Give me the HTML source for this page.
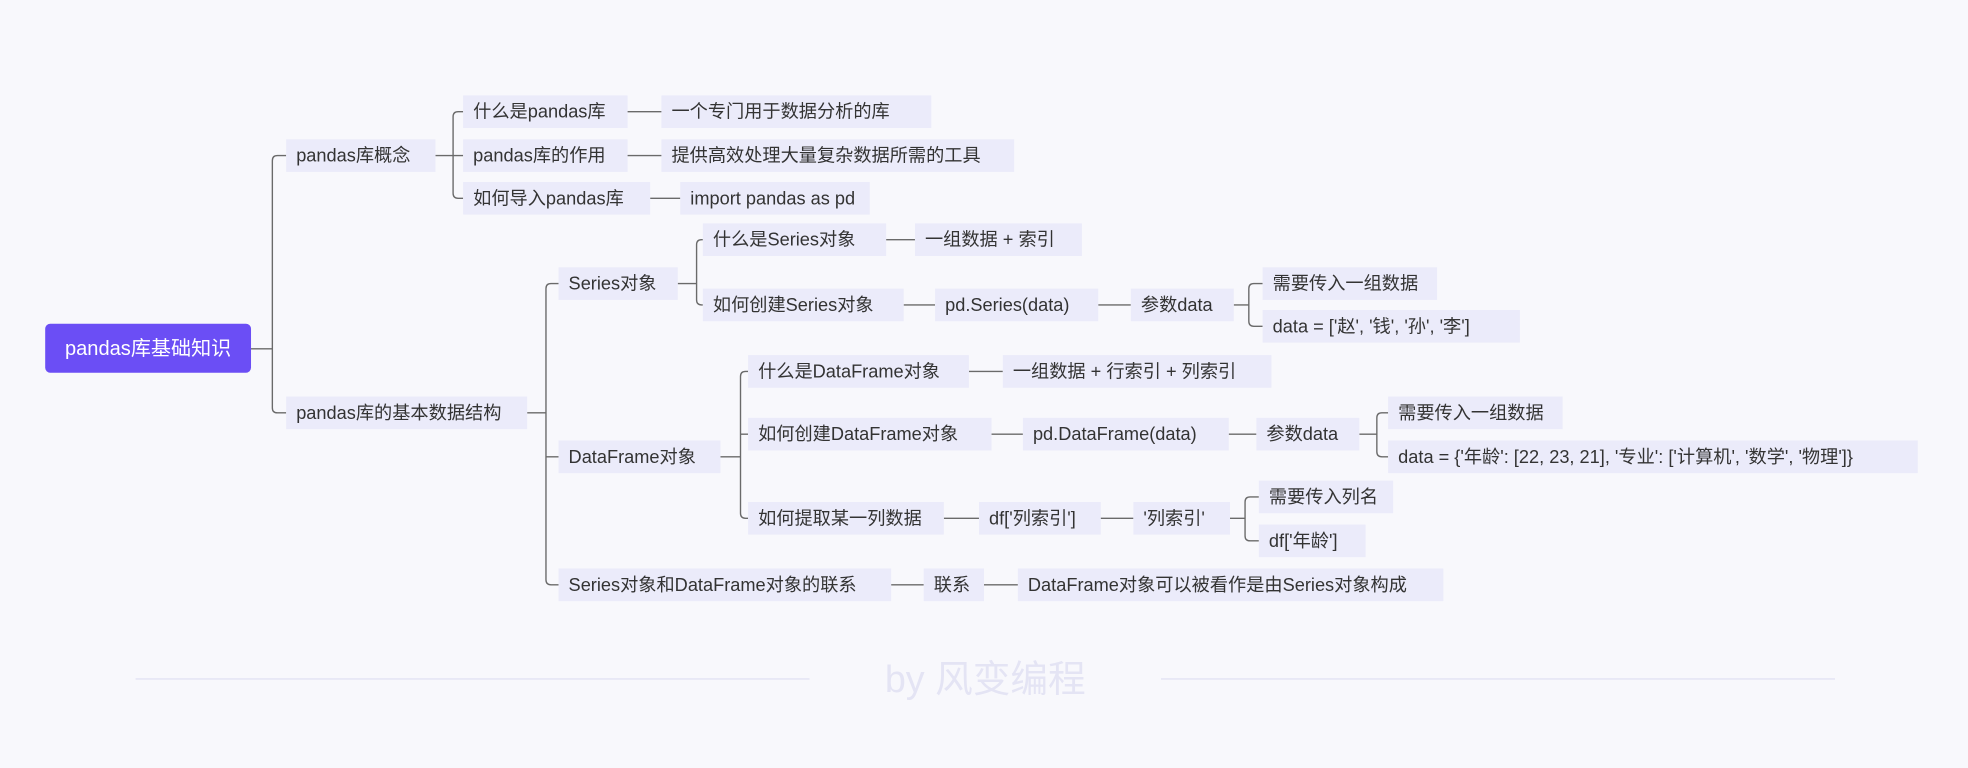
<!DOCTYPE html>
<html><head><meta charset="utf-8"><style>
html,body{margin:0;padding:0;background:#f8f8fc;}
svg{display:block}
text{font-family:"Liberation Sans","Noto Sans CJK SC",sans-serif;font-size:14.5px;fill:#333;dominant-baseline:central}
.b{fill:#ebebfa}
.l{stroke:#6a6a6a;stroke-width:1.1;fill:none}
</style></head><body>
<svg width="1968" height="768" viewBox="0 0 1568 612" preserveAspectRatio="none">
<rect width="1568" height="612" fill="#f8f8fc"/>
<!-- connectors -->
<g class="l">
<path d="M200,278H217M217,128V325M217,128Q217,124 221,124H228M217,325Q217,329 221,329H228"/>
<path d="M347,124H369M361,93V154M361,93Q361,89 365,89H369M361,154Q361,158 365,158H369"/>
<path d="M420,329H435M435,230V462M435,230Q435,226 439,226H445M435,364H445M435,462Q435,466 439,466H445"/>
<path d="M540,226H555M555,195V239M555,195Q555,191 559,191H560M555,239Q555,243 559,243H560"/>
<path d="M983,243H995M995,230V256M995,230Q995,226 999,226H1006M995,256Q995,260 999,260H1006"/>
<path d="M574,364H590M590,300V409M590,300Q590,296 594,296H596M590,346H596M590,409Q590,413 594,413H596"/>
<path d="M1083,346H1097M1097,333V360M1097,333Q1097,329 1101,329H1106M1097,360Q1097,364 1101,364H1106"/>
<path d="M980,413H992M992,400V427M992,400Q992,396 996,396H1003M992,427Q992,431 996,431H1003"/>
<path d="M500,89H527M500,124H527M518,158H542M706,191H729M720,243H745M875,243H901M772,296H799M790,346H815M979,346H1001M752,413H780M877,413H903M710,466H736M784,466H811"/>
</g>
<!-- root -->
<rect x="36" y="258" width="164" height="39" rx="4" fill="#6b4ef5"/>
<text x="118" y="278" text-anchor="middle" style="fill:#fff;font-size:16px">pandas库基础知识</text>
<!-- nodes -->
<g>
<rect class="b" x="228" y="111" width="119" height="26"/><text x="236" y="124">pandas库概念</text>
<rect class="b" x="228" y="316" width="192" height="26"/><text x="236" y="329">pandas库的基本数据结构</text>
<rect class="b" x="369" y="76" width="131" height="26"/><text x="377" y="89">什么是pandas库</text>
<rect class="b" x="369" y="111" width="131" height="26"/><text x="377" y="124">pandas库的作用</text>
<rect class="b" x="369" y="145" width="149" height="26"/><text x="377" y="158">如何导入pandas库</text>
<rect class="b" x="527" y="76" width="215" height="26"/><text x="535" y="89">一个专门用于数据分析的库</text>
<rect class="b" x="527" y="111" width="281" height="26"/><text x="535" y="124">提供高效处理大量复杂数据所需的工具</text>
<rect class="b" x="542" y="145" width="151" height="26"/><text x="550" y="158">import pandas as pd</text>
<rect class="b" x="445" y="213" width="95" height="26"/><text x="453" y="226">Series对象</text>
<rect class="b" x="445" y="351" width="129" height="26"/><text x="453" y="364">DataFrame对象</text>
<rect class="b" x="445" y="453" width="265" height="26"/><text x="453" y="466">Series对象和DataFrame对象的联系</text>
<rect class="b" x="560" y="178" width="146" height="26"/><text x="568" y="191">什么是Series对象</text>
<rect class="b" x="560" y="230" width="160" height="26"/><text x="568" y="243">如何创建Series对象</text>
<rect class="b" x="729" y="178" width="133" height="26"/><text x="737" y="191">一组数据 + 索引</text>
<rect class="b" x="745" y="230" width="130" height="26"/><text x="753" y="243">pd.Series(data)</text>
<rect class="b" x="901" y="230" width="82" height="26"/><text x="909" y="243">参数data</text>
<rect class="b" x="1006" y="213" width="139" height="26"/><text x="1014" y="226">需要传入一组数据</text>
<rect class="b" x="1006" y="247" width="205" height="26"/><text x="1014" y="260">data = ['赵', '钱', '孙', '李']</text>
<rect class="b" x="596" y="283" width="176" height="26"/><text x="604" y="296">什么是DataFrame对象</text>
<rect class="b" x="596" y="333" width="194" height="26"/><text x="604" y="346">如何创建DataFrame对象</text>
<rect class="b" x="596" y="400" width="156" height="26"/><text x="604" y="413">如何提取某一列数据</text>
<rect class="b" x="799" y="283" width="214" height="26"/><text x="807" y="296">一组数据 + 行索引 + 列索引</text>
<rect class="b" x="815" y="333" width="164" height="26"/><text x="823" y="346">pd.DataFrame(data)</text>
<rect class="b" x="1001" y="333" width="82" height="26"/><text x="1009" y="346">参数data</text>
<rect class="b" x="1106" y="316" width="139" height="26"/><text x="1114" y="329">需要传入一组数据</text>
<rect class="b" x="1106" y="351" width="422" height="26"/><text x="1114" y="364">data = {'年龄': [22, 23, 21], '专业': ['计算机', '数学', '物理']}</text>
<rect class="b" x="780" y="400" width="97" height="26"/><text x="788" y="413">df['列索引']</text>
<rect class="b" x="903" y="400" width="77" height="26"/><text x="911" y="413">'列索引'</text>
<rect class="b" x="1003" y="383" width="107" height="26"/><text x="1011" y="396">需要传入列名</text>
<rect class="b" x="1003" y="418" width="85" height="26"/><text x="1011" y="431">df['年龄']</text>
<rect class="b" x="736" y="453" width="48" height="26"/><text x="744" y="466">联系</text>
<rect class="b" x="811" y="453" width="339" height="26"/><text x="819" y="466">DataFrame对象可以被看作是由Series对象构成</text>
</g>
<!-- footer -->
<line x1="108" y1="541" x2="645" y2="541" stroke="#e8e8f6" stroke-width="1.5"/>
<line x1="925" y1="541" x2="1462" y2="541" stroke="#e8e8f6" stroke-width="1.5"/>
<text x="785" y="541" text-anchor="middle" style="fill:#e4e4f4;font-size:30px">by 风变编程</text>
</svg>
</body></html>
